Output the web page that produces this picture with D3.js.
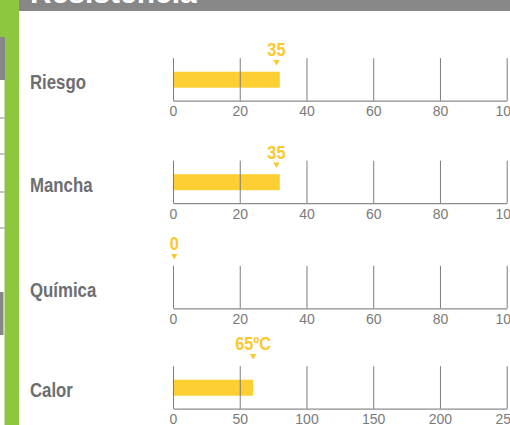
<!DOCTYPE html>
<html>
<head>
<meta charset="utf-8">
<script src="https://cdn.jsdelivr.net/npm/d3@7"></script>
<style>
  html, body { margin: 0; padding: 0; background: #fff; }
  svg { display: block; }
</style>
</head>
<body>
<svg id="chart" width="510" height="425"></svg>
<script>
// ---- data ----
const title = "Resistencia";
const categories = ["Riesgo", "Mancha", "Química", "Calor"];
const barValues = [32, 32, 0, 60];          // bar lengths as drawn
const markerValues = [31, 31, 0, 60];       // position of the ▼ marker
const valueLabels = ["35", "35", "0", "65ºC"];
const domainMax = [100, 100, 100, 250];
const tickValues = [
  [0, 20, 40, 60, 80, 100],
  [0, 20, 40, 60, 80, 100],
  [0, 20, 40, 60, 80, 100],
  [0, 50, 100, 150, 200, 250]
];

// ---- layout ----
const W = 510, H = 425;
const x0 = 173, x1 = 506.7;
const baselines = [100.7, 203.2, 308.3, 408.7];
const labelGap = [44.7, 44.7, 58.3, 58.7];   // axis baseline -> value label baseline
const gridH = 42.5;
const barTop = 29, barH = 16;

const yellowBar = "#fdcf33";
const yellowText = "#fcc82e";
const sans = "'Liberation Sans', Arial, Helvetica, sans-serif";

const svg = d3.select("#chart");

function condensedText(parent, x, y, str, size, fill, anchor, squeeze) {
  return parent.append("text")
    .attr("transform", `translate(${x},${y}) scale(${squeeze},1)`)
    .attr("text-anchor", anchor || "start")
    .attr("fill", fill).attr("font-family", sans)
    .attr("font-weight", "bold").attr("font-size", size)
    .text(str);
}

// left decorative band
svg.append("rect").attr("x", 0).attr("y", 0).attr("width", 19).attr("height", 37).attr("fill", "#8dc63f");
svg.append("rect").attr("x", 4.5).attr("y", 0).attr("width", 14.5).attr("height", H).attr("fill", "#8dc63f");
svg.append("rect").attr("x", 0).attr("y", 37).attr("width", 5).attr("height", 43).attr("fill", "#878787");
svg.append("rect").attr("x", 0).attr("y", 292).attr("width", 3.5).attr("height", 43).attr("fill", "#878787");
[118, 154, 192, 228].forEach(y => {
  svg.append("line").attr("x1", 0).attr("x2", 4.5).attr("y1", y).attr("y2", y)
    .attr("stroke", "#8a8a8a").attr("stroke-width", 1);
});

// title bar (clipped at top)
svg.append("rect").attr("x", 19).attr("y", 0).attr("width", W - 19).attr("height", 11).attr("fill", "#878787");
svg.append("text").attr("x", 30).attr("y", 3).text(title)
  .attr("fill", "#ffffff").attr("font-family", sans)
  .attr("font-weight", "bold").attr("font-size", 30);

categories.forEach((cat, i) => {
  const x = d3.scaleLinear().domain([0, domainMax[i]]).range([x0, x1]);
  const by = baselines[i];
  const g = svg.append("g");

  // category label
  condensedText(g, 30, by - 11.5, cat, 21, "#6d6e71", "start", 0.8);

  // bar
  g.append("rect")
    .attr("x", x(0)).attr("y", by - barTop)
    .attr("width", x(barValues[i]) - x(0)).attr("height", barH)
    .attr("fill", yellowBar);

  // axis with gridlines
  const axis = d3.axisBottom(x).tickValues(tickValues[i]).tickSize(0).tickPadding(0)
    .tickFormat(d3.format("d"));
  const ag = g.append("g").attr("transform", `translate(0,${by})`).call(axis);
  ag.select(".domain").attr("stroke", "#8c8c8c").attr("stroke-width", 1.3);
  ag.selectAll(".tick line").attr("y2", -gridH).attr("stroke", "#7c7c7c").attr("stroke-width", 1);
  ag.selectAll(".tick text")
    .attr("y", 15.5).attr("dy", 0)
    .attr("fill", "#7a7a7a")
    .attr("font-family", sans)
    .attr("font-size", 14);

  // marker and value label
  const mx = x(markerValues[i]) + (markerValues[i] === 0 ? 1.3 : 0);
  const ly = by - labelGap[i];
  g.append("path")
    .attr("d", `M${mx - 3.2},${ly + 4} L${mx + 3.2},${ly + 4} L${mx},${ly + 9.5} Z`)
    .attr("fill", yellowText);
  condensedText(g, mx, ly, valueLabels[i], 19, yellowText, "middle", 0.86);
});
</script>
</body>
</html>
